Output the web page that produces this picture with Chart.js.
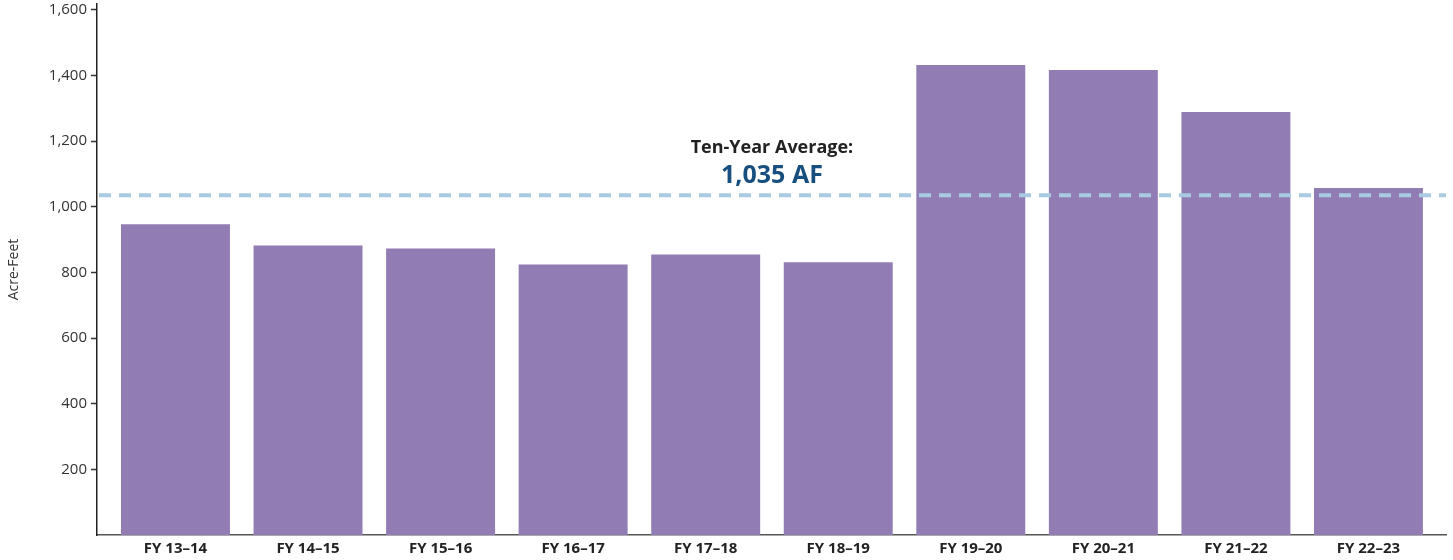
<!DOCTYPE html>
<html>
<head>
<meta charset="utf-8">
<script src="https://cdn.jsdelivr.net/npm/chart.js@4"></script>
<style>
  html, body { margin: 0; padding: 0; background: #fff; }
  #wrap { width: 1453px; height: 560px; }
</style>
</head>
<body>
<div id="wrap"><canvas id="myChart" width="1453" height="560"></canvas></div>
<script>
const years = [
  "FY 13–14",
  "FY 14–15",
  "FY 15–16",
  "FY 16–17",
  "FY 17–18",
  "FY 18–19",
  "FY 19–20",
  "FY 20–21",
  "FY 21–22",
  "FY 22–23",
];
const acreFeet = [947, 882, 873, 824, 855, 831, 1432, 1417, 1289, 1057];
const yTicks = [200, 400, 600, 800, 1000, 1200, 1400, 1600];
const average = 1035;
const averageTitle = "Ten-Year Average:";
const averageLabel = "1,035 AF";

const FONT = "'Open Sans', 'Noto Sans', sans-serif";

// dashed average line with its caption above
const averageLine = {
  id: "averageLine",
  afterDatasetsDraw(chart) {
    const { ctx, chartArea } = chart;
    const y = chart.scales.y.getPixelForValue(average);
    const cx = chart.scales.x.getPixelForValue(4.5);
    ctx.save();
    ctx.strokeStyle = "#a8cbe2";
    ctx.lineWidth = 4;
    ctx.setLineDash([12, 8]);
    ctx.beginPath();
    ctx.moveTo(chartArea.left + 2, y);
    ctx.lineTo(chartArea.right, y);
    ctx.stroke();
    ctx.setLineDash([]);
    ctx.textAlign = "center";
    ctx.textBaseline = "middle";
    ctx.fillStyle = "#222";
    ctx.font = "bold 18px " + FONT;
    ctx.fillText(averageTitle, cx, y - 47);
    ctx.fillStyle = "#17507f";
    ctx.font = "bold 25px " + FONT;
    ctx.fillText(averageLabel, cx, y - 19);
    ctx.restore();
  },
};

const ctx = document.getElementById("myChart").getContext("2d");

const myChart = new Chart(ctx, {
  type: "bar",
  data: {
    datasets: [
      {
        label: "Acre-Feet",
        data: acreFeet.map((v, i) => ({ x: i, y: v })),
        backgroundColor: "#927cb4",
        borderWidth: 0,
        barPercentage: 0.822,
        categoryPercentage: 1,
      },
    ],
  },
  options: {
    responsive: false,
    animation: false,
    layout: { padding: { top: 4, right: 7, left: 0, bottom: 0 } },
    plugins: {
      legend: { display: false },
      tooltip: { enabled: false },
    },
    scales: {
      x: {
        type: "linear",
        offset: false,
        min: -0.592,
        max: 9.585,
        afterBuildTicks: (scale) => {
          scale.ticks = years.map((_, i) => ({ value: i }));
        },
        afterFit: (scale) => {
          scale.height = 25;
          scale.paddingLeft = 0;
          scale.paddingRight = 0;
        },
        grid: { display: true, offset: false, drawOnChartArea: false, drawTicks: false },
        border: { color: "#555", width: 1.5 },
        ticks: {
          padding: 5,
          autoSkip: false,
          maxRotation: 0,
          color: "#222",
          font: { family: FONT, size: 15, weight: "bold" },
          callback: (v) => years[v],
        },
      },
      y: {
        min: 0,
        max: 1618,
        afterBuildTicks: (scale) => {
          scale.ticks = yTicks.map((v) => ({ value: v }));
        },
        afterFit: (scale) => {
          scale.width = 97;
          scale.paddingTop = 0;
          scale.paddingBottom = 0;
        },
        grid: { drawOnChartArea: false, tickLength: 6, color: "#333", tickWidth: 1.5 },
        border: { color: "#222", width: 1.5 },
        title: {
          display: true,
          text: "Acre-Feet",
          color: "#333",
          padding: { top: 6, bottom: 0 },
          font: { family: FONT, size: 14 },
        },
        ticks: {
          padding: 4,
          color: "#333",
          font: { family: FONT, size: 15 },
          callback: (v) => v.toLocaleString("en-US"),
        },
      },
    },
  },
  plugins: [averageLine],
});
</script>
</body>
</html>
